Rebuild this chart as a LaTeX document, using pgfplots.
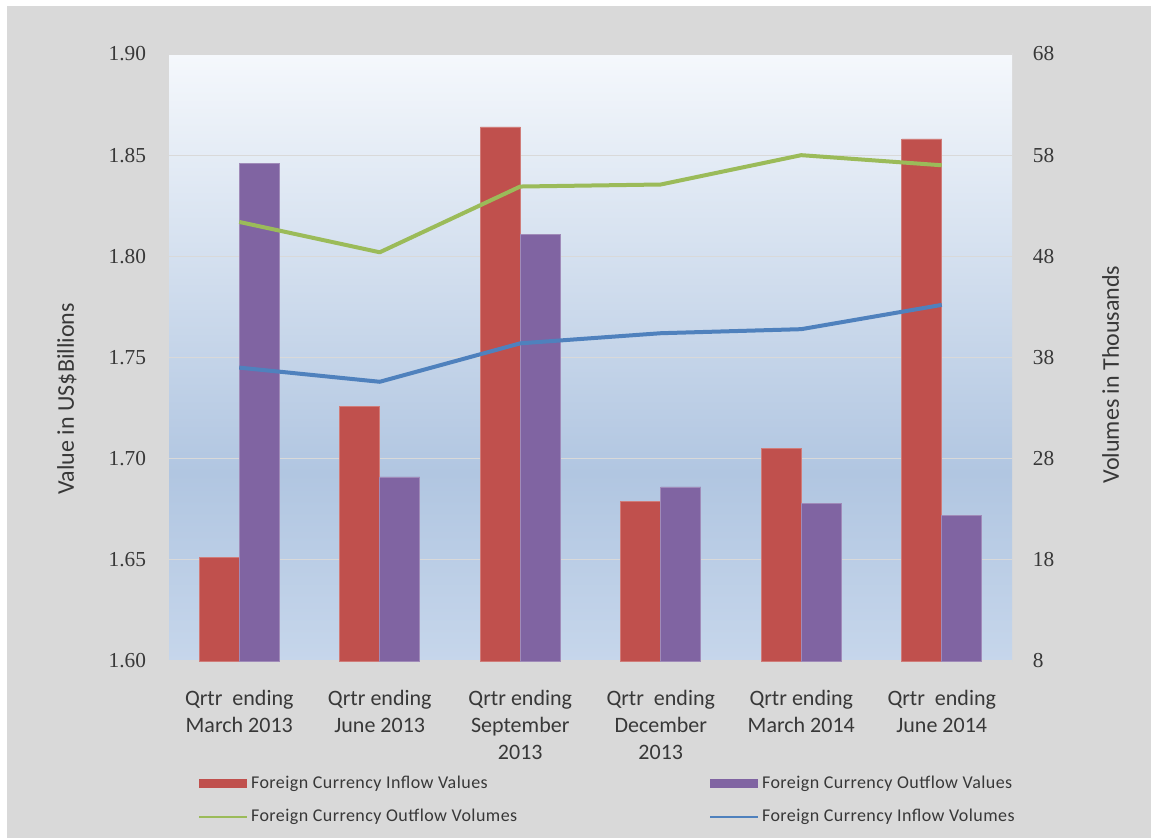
\documentclass[border=0pt]{standalone}
\usepackage{pgfplots}
\pgfplotsset{compat=1.18}
\usepackage{fontspec}
\setmainfont{Carlito}
\newfontfamily\numfont{Liberation Serif}
\newfontfamily\legfont[LetterSpace=2.5]{Carlito}

\definecolor{cred}{HTML}{C0504D}
\definecolor{cpurple}{HTML}{8064A2}
\definecolor{cgreen}{HTML}{9BBB59}
\definecolor{cblue}{HTML}{4F81BD}
\definecolor{bggray}{HTML}{D9D9D9}
\definecolor{bgtop}{HTML}{F5F8FC}
\definecolor{bgdark}{HTML}{B1C6E1}
\definecolor{bgbot}{HTML}{C6D6EB}
\definecolor{gridc}{HTML}{D9D9D9}
\definecolor{txt}{HTML}{383838}

\pgfdeclareverticalshading{plotbg}{100bp}{color(0bp)=(bgbot); color(25bp)=(bgbot); color(40.5bp)=(bgdark); color(75bp)=(bgtop); color(100bp)=(bgtop)}

\pgfplotsset{
  barleg/.style={legend image code/.code={\fill[##1, draw=none] (0pt,-3.4pt) rectangle (36pt,3.4pt);}},
  lineleg/.style={legend image code/.code={\draw[##1, line width=1.6pt] (0pt,0pt) -- (36pt,0pt);}},
}

\begin{document}
\begin{tikzpicture}
\useasboundingbox (0,0) rectangle (863.25pt,629.25pt);
\fill[white] (0,0) rectangle (863.25pt,629.25pt);
\fill[bggray] (5.25pt,0.75pt) rectangle (863.25pt,624.75pt);

\begin{axis}[
  at={(126.75pt,133.5pt)}, anchor=south west,
  scale only axis, width=632.25pt, height=455.25pt,
  xmin=-0.5, xmax=5.5, ymin=1.6, ymax=1.9,
  ytick={1.60,1.65,1.70,1.75,1.80,1.85,1.90},
  yticklabel style={/pgf/number format/fixed, /pgf/number format/fixed zerofill, /pgf/number format/precision=2, /pgf/number format/assume math mode=true},
  yticklabel style={font=\numfont\fontsize{16}{18}\selectfont, text=txt, inner sep=0pt, xshift=-17pt},
  xtick={0,1,2,3,4,5},
  xticklabels={{Qrtr\ \ ending\\March 2013},{Qrtr ending\\June 2013},{Qrtr ending\\September\\2013},{Qrtr\ \ ending\\December\\2013},{Qrtr ending\\March 2014},{Qrtr\ \ ending\\June 2014}},
  xticklabel style={align=center, font=\fontsize{16.5}{20}\selectfont, text=txt, inner sep=0pt, yshift=-22pt},
  ymajorgrids, grid style={gridc, line width=0.9pt},
  axis line style={draw=none}, major tick length=0pt,
  xtick pos=bottom, ytick pos=left,
  ybar=0pt, bar width=30pt,
  axis background/.style={shading=plotbg},
  ylabel={Value in US\$Billions},
  ylabel style={at={(axis description cs:-0.121,0.432)}, anchor=center, font=\fontsize{18}{20}\selectfont, text=txt},
]
\addplot[fill=cred, draw=cred!75!white, line width=0.5pt] coordinates {(0,1.651) (1,1.726) (2,1.864) (3,1.679) (4,1.705) (5,1.858)};
\addplot[fill=cpurple, draw=cpurple!75!white, line width=0.5pt] coordinates {(0,1.846) (1,1.691) (2,1.811) (3,1.686) (4,1.678) (5,1.672)};
\end{axis}

\begin{axis}[
  at={(126.75pt,133.5pt)}, anchor=south west,
  scale only axis, width=632.25pt, height=455.25pt,
  xmin=-0.5, xmax=5.5, ymin=8, ymax=68,
  axis y line*=right, axis x line=none, xtick=\empty,
  ytick={8,18,28,38,48,58,68},
  yticklabel style={/pgf/number format/assume math mode=true},
  yticklabel style={font=\numfont\fontsize{16}{18}\selectfont, text=txt, inner sep=0pt, xshift=15.5pt},
  axis line style={draw=none}, major tick length=0pt,
  ylabel={Volumes in Thousands},
  ylabel style={at={(axis description cs:1.117,0.472)}, anchor=center, font=\fontsize{18}{20}\selectfont, text=txt},
  legend columns=2,
  legend cell align=left,
  legend style={at={(axis description cs:0.0344,-0.185)}, anchor=north west, draw=none, fill=none, inner sep=0pt,
    font=\legfont\fontsize{13.5}{15}\selectfont, text=txt, row sep=10pt,
    /tikz/every even column/.append style={column sep=142pt}},
]
\addlegendimage{barleg, fill=cred}
\addlegendentry{Foreign Currency Inflow Values}
\addlegendimage{barleg, fill=cpurple}
\addlegendentry{Foreign Currency Outflow Values}
\addplot[cgreen, line width=3pt, line join=round, lineleg] coordinates {(0,51.4) (1,48.4) (2,54.9) (3,55.1) (4,58.0) (5,57.0)};
\addlegendentry{Foreign Currency Outflow Volumes}
\addplot[cblue, line width=3pt, line join=round, lineleg] coordinates {(0,37.0) (1,35.6) (2,39.4) (3,40.4) (4,40.8) (5,43.2)};
\addlegendentry{Foreign Currency Inflow Volumes}
\end{axis}
\end{tikzpicture}
\end{document}
